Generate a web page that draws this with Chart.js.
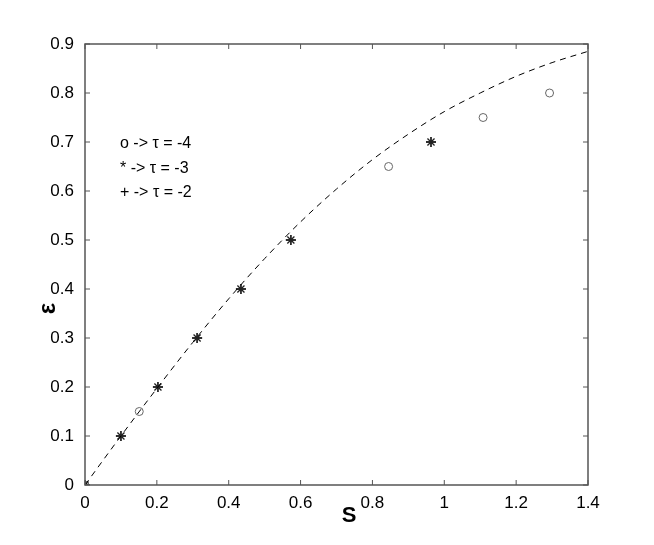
<!DOCTYPE html>
<html>
<head>
<meta charset="utf-8">
<script src="https://cdn.jsdelivr.net/npm/chart.js@4/dist/chart.umd.min.js"></script>
<style>
  html, body { margin: 0; padding: 0; background: #fff; }
  #wrap { width: 654px; height: 545px; }
</style>
</head>
<body>
<div id="wrap"><canvas id="c" width="654" height="545"></canvas></div>
<script>
/* values */
const curveS   = [0, 0.1, 0.2, 0.3, 0.4, 0.5, 0.6, 0.7, 0.8, 0.9, 1.0, 1.1, 1.2, 1.3, 1.4];
const curveEps = [0, 0.100, 0.197, 0.291, 0.380, 0.462, 0.537, 0.604, 0.664, 0.716, 0.762, 0.800, 0.834, 0.862, 0.885];

const circS    = [0, 0.151, 0.845, 1.108, 1.293];
const circEps  = [0, 0.15, 0.65, 0.75, 0.8];

const starS    = [0, 0.1, 0.203, 0.312, 0.434, 0.573, 0.963];
const starEps  = [0, 0.1, 0.2, 0.3, 0.4, 0.5, 0.7];

const plusS    = [0, 0.1, 0.203, 0.312, 0.434, 0.573, 0.963];
const plusEps  = [0, 0.1, 0.2, 0.3, 0.4, 0.5, 0.7];

const legendLines = ["o -> \u03c4 = -4", "* -> \u03c4 = -3", "+ -> \u03c4 = -2"];

function pts(xs, ys) { return xs.map(function (x, i) { return { x: x, y: ys[i] }; }); }

const AXIS = "#555555";
const FONT = "'Liberation Sans', Arial, sans-serif";

/* box frame + inward ticks, matlab style; text legend and axis labels */
const frame = {
  id: "frame",
  afterDraw: function (chart) {
    const ctx = chart.ctx, a = chart.chartArea;
    const xs = chart.scales.x, ys = chart.scales.y;
    ctx.save();
    ctx.strokeStyle = AXIS;
    ctx.lineWidth = 1.5;
    ctx.strokeRect(a.left, a.top, a.right - a.left, a.bottom - a.top);
    ctx.lineWidth = 1;
    xs.ticks.forEach(function (t) {
      const px = xs.getPixelForValue(t.value);
      ctx.beginPath();
      ctx.moveTo(px, a.bottom); ctx.lineTo(px, a.bottom - 5);
      ctx.moveTo(px, a.top);    ctx.lineTo(px, a.top + 5);
      ctx.stroke();
    });
    ys.ticks.forEach(function (t) {
      const py = ys.getPixelForValue(t.value);
      ctx.beginPath();
      ctx.moveTo(a.left, py);  ctx.lineTo(a.left + 5, py);
      ctx.moveTo(a.right, py); ctx.lineTo(a.right - 5, py);
      ctx.stroke();
    });
    ctx.fillStyle = "#000";
    ctx.font = "16px " + FONT;
    ctx.textBaseline = "middle";
    legendLines.forEach(function (s, i) {
      ctx.fillText(s, a.left + 35, a.top + 100 + i * 24.5);
    });
    /* x label, a little right of centre as in the original */
    ctx.textAlign = "center";
    ctx.font = "bold 22px " + FONT;
    ctx.fillText("S", xs.getPixelForValue(0.735), a.bottom + 31);
    /* y label, a bit below centre */
    ctx.translate(48, ys.getPixelForValue(0.36));
    ctx.rotate(-Math.PI / 2);
    ctx.font = "bold 24px " + FONT;
    ctx.fillText("\u03b5", 0, 0);
    ctx.restore();
  }
};

new Chart(document.getElementById("c"), {
  type: "scatter",
  data: {
    datasets: [
      {
        type: "line", label: "curve", data: pts(curveS, curveEps),
        borderColor: "#000", borderWidth: 1, borderDash: [6, 5],
        pointRadius: 0, fill: false, cubicInterpolationMode: "monotone"
      },
      {
        label: "tau=-4", data: pts(circS, circEps),
        pointStyle: "circle", pointRadius: 4, borderWidth: 1,
        borderColor: "#666", backgroundColor: "rgba(0,0,0,0)"
      },
      {
        label: "tau=-3", data: pts(starS, starEps),
        pointStyle: "star", pointRadius: 5, borderWidth: 1.3,
        borderColor: "#222", backgroundColor: "#222"
      },
      {
        label: "tau=-2", data: pts(plusS, plusEps),
        pointStyle: "cross", pointRadius: 5, borderWidth: 1.3,
        borderColor: "#222", backgroundColor: "#222"
      }
    ]
  },
  options: {
    responsive: false,
    animation: false,
    layout: { padding: { top: 44, right: 66, bottom: 0, left: 0 } },
    plugins: { legend: { display: false }, tooltip: { enabled: false } },
    scales: {
      x: {
        type: "linear", min: 0, max: 1.4,
        afterFit: function (s) { s.height = 60; },
        ticks: { stepSize: 0.2, color: "#000", font: { family: FONT, size: 17 }, padding: 0, maxRotation: 0,
                 callback: function (v) { return +v.toFixed(1); } },
        grid: { display: false },
        border: { display: false }
      },
      y: {
        type: "linear", min: 0, max: 0.9,
        afterFit: function (s) { s.width = 85; },
        ticks: { stepSize: 0.1, color: "#000", font: { family: FONT, size: 17 }, padding: 3,
                 callback: function (v) { return +v.toFixed(1); } },
        grid: { display: false },
        border: { display: false }
      }
    }
  },
  plugins: [frame]
});
</script>
</body>
</html>
